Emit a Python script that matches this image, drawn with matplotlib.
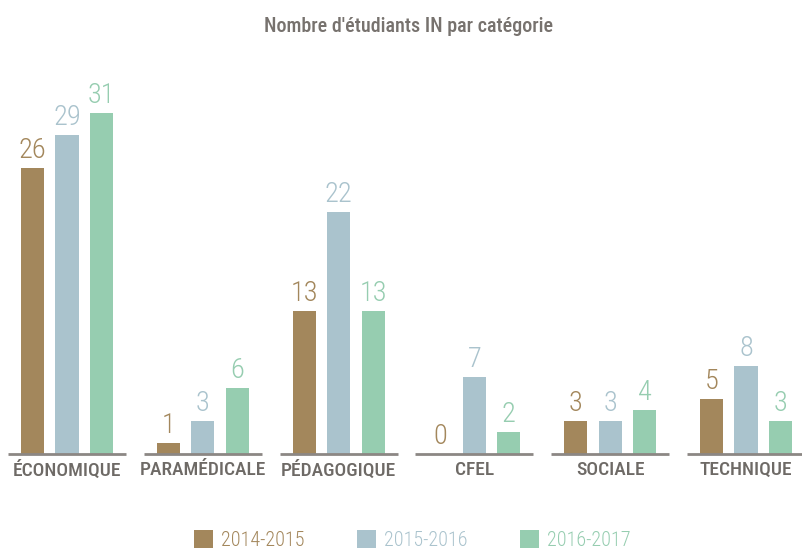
import numpy as np
import matplotlib
matplotlib.use('Agg')
from matplotlib import pyplot as plt
from matplotlib.patches import Patch

plt.rcParams['font.family'] = ['Roboto Condensed', 'Roboto', 'DejaVu Sans']

categories = ['ÉCONOMIQUE', 'PARAMÉDICALE', 'PÉDAGOGIQUE', 'CFEL', 'SOCIALE', 'TECHNIQUE']
years = ['2014-2015', '2015-2016', '2016-2017']
v_2014 = [26, 1, 13, 0, 3, 5]
v_2015 = [29, 3, 22, 7, 3, 8]
v_2016 = [31, 6, 13, 2, 4, 3]

colors = ['#A3875C', '#AAC3CD', '#96CDB0']
grey_txt = '#6E6A66'
grey_line = '#8C8784'

fig = plt.figure(figsize=(8.02, 5.51), dpi=100)
ax = fig.add_axes([0, 97 / 551, 1, 440 / 551])
ax.set_xlim(-67 / 135.8, (802 - 67) / 135.8)
ax.set_ylim(0, 40)
ax.axis('off')

x = np.arange(len(categories))
w = 0.17
off = 0.254
for k, vals in enumerate([v_2014, v_2015, v_2016]):
    xs = x + (k - 1) * off
    ax.bar(xs, vals, width=w, color=colors[k], zorder=2)
    for xi, v in zip(xs, vals):
        ax.annotate(str(v), (xi, v), xytext=(0, 3), textcoords='offset points',
                    ha='center', va='bottom', fontsize=20.5, color=colors[k],
                    fontweight='light')

# ligne de base par groupe
for xi in x:
    ax.plot([xi - 0.435, xi + 0.435], [0, 0], color=grey_line, lw=2, zorder=3,
            solid_capstyle='butt', clip_on=False)
    ax.annotate(categories[xi], (xi, 0), xytext=(0, -5), textcoords='offset points',
                ha='center', va='top', fontsize=14, color=grey_txt, fontweight='medium')

fig.text(0.51, 0.952, "Nombre d'étudiants IN par catégorie", ha='center', va='center',
         fontsize=14.5, color='#77726E', fontweight='medium')

handles = [Patch(facecolor=c, edgecolor='none') for c in colors]
leg = fig.legend(handles, years, loc='center', bbox_to_anchor=(0.514, 0.02), ncol=3,
                 frameon=False, fontsize=14.5, handlelength=0.95, handleheight=0.95,
                 handletextpad=0.4, columnspacing=2.6)
for t, c in zip(leg.get_texts(), colors):
    t.set_color(c)
    t.set_fontweight('light')

fig.savefig('out.png', dpi=100)
